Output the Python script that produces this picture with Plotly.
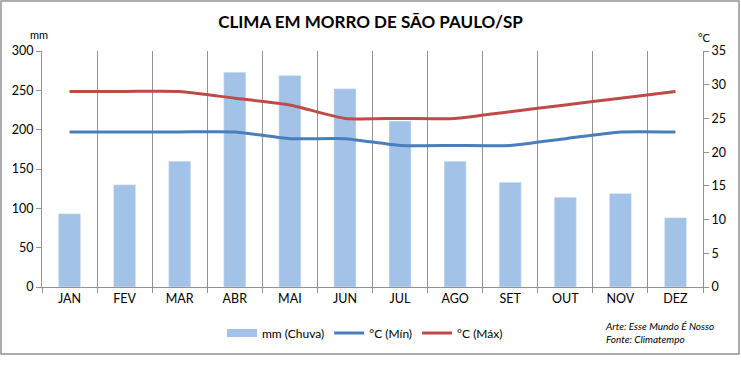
import plotly.graph_objects as go

months = ["JAN", "FEV", "MAR", "ABR", "MAI", "JUN", "JUL", "AGO", "SET", "OUT", "NOV", "DEZ"]
chuva_mm = [93, 130, 160, 273, 269, 252, 211, 160, 133, 114, 119, 88]
temp_min = [23, 23, 23, 23, 22, 22, 21, 21, 21, 22, 23, 23]
temp_max = [29, 29, 29, 28, 27, 25, 25, 25, 26, 27, 28, 29]

W, H = 741, 374
L, R, T, B = 42, 38, 51, 87
pw, ph = W - L - R, H - T - B

def px(x):
    return (x - L) / pw

def py(y):
    return (H - B - y) / ph

FONT = "Lato"
GRAY = "#939393"
BAR_C = "#A3C2E8"

fig = go.Figure()
fig.add_trace(go.Bar(x=months, y=chuva_mm, name="mm (Chuva)", marker_color=BAR_C,
                     width=0.4, yaxis="y", showlegend=False))
# legend stand-in for the bar swatch (wide, flat rectangle)
fig.add_trace(go.Scatter(x=[None], y=[None], name="mm (Chuva)", mode="lines",
                         line=dict(color=BAR_C, width=8), yaxis="y"))
fig.add_trace(go.Scatter(x=months, y=temp_min, name="°C (Mín)", mode="lines",
                         line=dict(color="#4A7EBB", width=3, shape="spline", smoothing=0.5),
                         yaxis="y2"))
fig.add_trace(go.Scatter(x=months, y=temp_max, name="°C (Máx)", mode="lines",
                         line=dict(color="#BE4B48", width=3, shape="spline", smoothing=0.5),
                         yaxis="y2"))

fig.update_layout(
    width=W, height=H,
    margin=dict(l=L, r=R, t=T, b=B),
    paper_bgcolor="white", plot_bgcolor="white",
    font=dict(family=FONT, size=12, color="black"),
    title=dict(text="<b>CLIMA EM MORRO DE SÃO PAULO/SP</b>", x=0.5, xanchor="center",
               y=1 - 22 / H, yanchor="middle", font=dict(size=17, family=FONT)),
    xaxis=dict(type="category", tickson="boundaries", ticks="outside", ticklen=5,
               tickcolor=GRAY, showgrid=True, gridcolor=GRAY, gridwidth=1,
               showline=True, linecolor=GRAY, linewidth=1, tickfont=dict(size=12.5),
               range=[-0.5, 11.5]),
    yaxis=dict(range=[0, 300], dtick=50, ticks="outside", ticklen=5, tickcolor=GRAY,
               showgrid=False, showline=True, linecolor=GRAY, zeroline=False,
               tickfont=dict(size=12.5)),
    yaxis2=dict(range=[0, 35], dtick=5, overlaying="y", side="right", ticks="outside",
                ticklen=5, tickcolor=GRAY, showgrid=False, showline=True, linecolor=GRAY,
                zeroline=False, tickfont=dict(size=12.5)),
    legend=dict(orientation="h", x=px(365), xanchor="center", y=py(333), yanchor="middle",
                font=dict(size=12), tracegroupgap=0, itemwidth=30),
    bargap=0.6,
    showlegend=True,
)

fig.add_annotation(text="mm", x=px(39), y=py(35), xref="paper", yref="paper",
                   xanchor="center", yanchor="middle", showarrow=False, font=dict(size=11))
fig.add_annotation(text="°C", x=px(704), y=py(38), xref="paper", yref="paper",
                   xanchor="center", yanchor="middle", showarrow=False, font=dict(size=11))
fig.add_annotation(text="<i>Arte: Esse Mundo É Nosso<br>Fonte: Climatempo</i>",
                   x=px(603), y=py(332), xref="paper", yref="paper", xanchor="left",
                   yanchor="middle", align="left", showarrow=False,
                   font=dict(size=10))
fig.add_shape(type="rect", xref="paper", yref="paper",
              x0=px(1), x1=px(739), y0=py(354), y1=py(1),
              line=dict(color=GRAY, width=1.5), fillcolor="rgba(0,0,0,0)", layer="below")

fig.write_html("out.html", config={"displayModeBar": False},
               post_script="document.body.style.margin='0';")
